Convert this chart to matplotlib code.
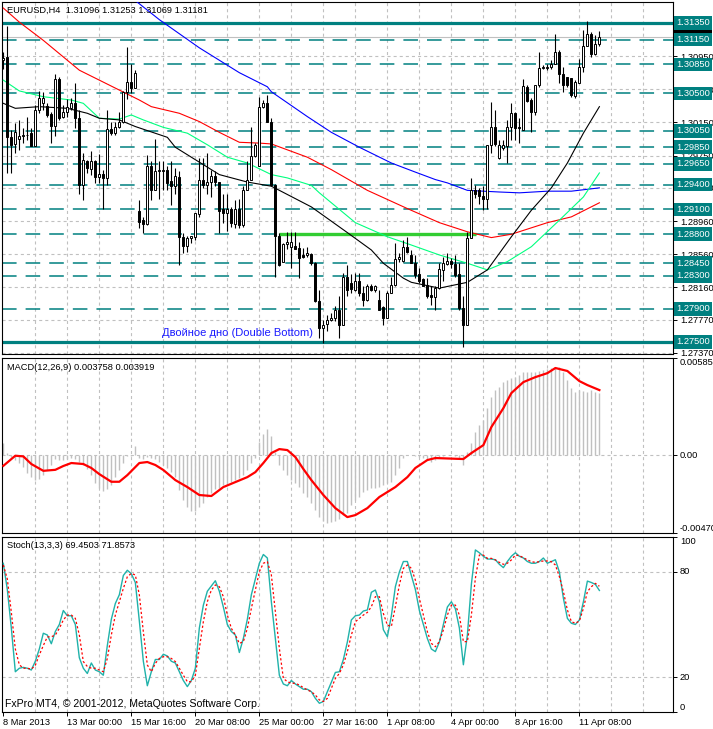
import matplotlib
matplotlib.use('Agg')
import matplotlib.pyplot as plt
import matplotlib.transforms as mtransforms
import numpy as np

plt.rcParams['font.family'] = ['Liberation Sans', 'DejaVu Sans']
plt.rcParams['lines.scale_dashes'] = False

# ---------------- data (EURUSD H4) ----------------
opens = [1.3090, 1.3094, 1.2997, 1.2989, 1.2995, 1.2998, 1.3000, 1.3002, 1.2987, 1.3030,
         1.3038, 1.3035, 1.3025, 1.3011, 1.3067, 1.3022, 1.3027, 1.3032, 1.3038, 1.3020,
         1.2939, 1.2969, 1.2959, 1.2968, 1.2949, 1.2953, 1.2948, 1.3007, 1.3002, 1.3010,
         1.3016, 1.3052, 1.3064, 1.3057, 1.2908, 1.2897, 1.2892, 1.2962, 1.2934, 1.2956,
         1.2956, 1.2957, 1.2944, 1.2938, 1.2949, 1.2877, 1.2866, 1.2875, 1.2877, 1.2905,
         1.2946, 1.2939, 1.2943, 1.2950, 1.2943, 1.2910, 1.2906, 1.2911, 1.2892, 1.2910,
         1.2891, 1.2934, 1.2946, 1.2974, 1.2962, 1.3033, 1.3038, 1.3016, 1.2940, 1.2878,
         1.2847, 1.2868, 1.2865, 1.2866, 1.2863, 1.2855, 1.2855, 1.2856, 1.2845, 1.2799,
         1.2767, 1.2772, 1.2777, 1.2779, 1.2789, 1.2771, 1.2829, 1.2821, 1.2813, 1.2823,
         1.2809, 1.2801, 1.2818, 1.2813, 1.2801, 1.2792, 1.2779, 1.2809, 1.2819, 1.2850,
         1.2848, 1.2865, 1.2855, 1.2845, 1.2832, 1.2826, 1.2819, 1.2807, 1.2804, 1.2815,
         1.2837, 1.2844, 1.2848, 1.2844, 1.2832, 1.2791, 1.2771, 1.2875, 1.2934, 1.2933,
         1.2926, 1.2923, 1.2988, 1.3009, 1.2972, 1.2984, 1.2986, 1.3010, 1.3026, 1.3010,
         1.3006, 1.3058, 1.3042, 1.3028, 1.3060, 1.3081, 1.3081, 1.3082, 1.3086, 1.3100,
         1.3074, 1.3070, 1.3068, 1.3047, 1.3063, 1.3082, 1.3107, 1.3122, 1.3098, 1.3110]
highs = [1.3100, 1.3131, 1.3006, 1.3014, 1.3018, 1.3008, 1.3022, 1.3008, 1.3036, 1.3053,
         1.3052, 1.3038, 1.3027, 1.3074, 1.3070, 1.3036, 1.3043, 1.3044, 1.3062, 1.3030,
         1.2978, 1.2970, 1.2980, 1.2970, 1.2977, 1.2958, 1.3030, 1.3016, 1.3016, 1.3027,
         1.3053, 1.3106, 1.3086, 1.3078, 1.2921, 1.2901, 1.2976, 1.2968, 1.2995, 1.2968,
         1.2968, 1.2962, 1.2968, 1.2960, 1.2956, 1.2881, 1.2878, 1.2878, 1.2906, 1.2972,
         1.2972, 1.2978, 1.2958, 1.2956, 1.2943, 1.2929, 1.2929, 1.2913, 1.2921, 1.2923,
         1.2938, 1.2968, 1.3010, 1.2990, 1.3046, 1.3042, 1.3048, 1.3020, 1.2941, 1.2881,
         1.2870, 1.2883, 1.2883, 1.2883, 1.2871, 1.2863, 1.2865, 1.2857, 1.2846, 1.2813,
         1.2777, 1.2783, 1.2785, 1.2793, 1.2805, 1.2833, 1.2843, 1.2832, 1.2833, 1.2833,
         1.2817, 1.2820, 1.2820, 1.2819, 1.2813, 1.2793, 1.2811, 1.2829, 1.2869, 1.2857,
         1.2873, 1.2877, 1.2861, 1.2855, 1.2839, 1.2827, 1.2827, 1.2817, 1.2817, 1.2845,
         1.2853, 1.2857, 1.2851, 1.2855, 1.2845, 1.2805, 1.2883, 1.2948, 1.2940, 1.2936,
         1.2938, 1.2988, 1.3040, 1.3030, 1.2994, 1.2994, 1.3018, 1.3038, 1.3028, 1.3020,
         1.3067, 1.3060, 1.3044, 1.3060, 1.3100, 1.3084, 1.3086, 1.3090, 1.3122, 1.3102,
         1.3082, 1.3070, 1.3068, 1.3066, 1.3092, 1.3126, 1.3137, 1.3124, 1.3120, 1.3125]
lows = [1.3080, 1.2954, 1.2954, 1.2978, 1.2982, 1.2990, 1.2994, 1.2986, 1.2986, 1.3026,
        1.3030, 1.3022, 1.2990, 1.2998, 1.3018, 1.3020, 1.3022, 1.3030, 1.3008, 1.2928,
        1.2921, 1.2954, 1.2951, 1.2942, 1.2942, 1.2910, 1.2940, 1.3000, 1.3000, 1.3008,
        1.3014, 1.3043, 1.3050, 1.3056, 1.2887, 1.2881, 1.2891, 1.2921, 1.2934, 1.2923,
        1.2934, 1.2934, 1.2915, 1.2928, 1.2843, 1.2857, 1.2858, 1.2869, 1.2873, 1.2901,
        1.2936, 1.2929, 1.2925, 1.2938, 1.2881, 1.2893, 1.2884, 1.2889, 1.2888, 1.2887,
        1.2889, 1.2934, 1.2946, 1.2973, 1.2962, 1.3032, 1.3015, 1.2938, 1.2828, 1.2842,
        1.2846, 1.2862, 1.2839, 1.2862, 1.2827, 1.2851, 1.2852, 1.2843, 1.2798, 1.2755,
        1.2749, 1.2763, 1.2775, 1.2775, 1.2755, 1.2771, 1.2805, 1.2809, 1.2811, 1.2805,
        1.2793, 1.2800, 1.2811, 1.2810, 1.2788, 1.2771, 1.2779, 1.2809, 1.2817, 1.2847,
        1.2846, 1.2857, 1.2845, 1.2827, 1.2821, 1.2817, 1.2803, 1.2795, 1.2789, 1.2814,
        1.2823, 1.2843, 1.2839, 1.2829, 1.2789, 1.2744, 1.2771, 1.2875, 1.2924, 1.2917,
        1.2909, 1.2911, 1.2978, 1.2986, 1.2971, 1.2982, 1.2966, 1.2994, 1.2994, 1.2990,
        1.3006, 1.3040, 1.3004, 1.3024, 1.3058, 1.3079, 1.3078, 1.3080, 1.3086, 1.3062,
        1.3052, 1.3058, 1.3046, 1.3044, 1.3062, 1.3076, 1.3107, 1.3094, 1.3096, 1.3107]
closes = [1.3093, 1.2997, 1.2988, 1.3004, 1.2999, 1.3000, 1.3000, 1.2987, 1.3030, 1.3045,
          1.3045, 1.3024, 1.3011, 1.3067, 1.3020, 1.3028, 1.3033, 1.3038, 1.3020, 1.2940,
          1.2970, 1.2960, 1.2968, 1.2949, 1.2953, 1.2948, 1.3007, 1.3002, 1.3010, 1.3015,
          1.3052, 1.3064, 1.3057, 1.3075, 1.2895, 1.2892, 1.2962, 1.2934, 1.2956, 1.2957,
          1.2958, 1.2942, 1.2938, 1.2950, 1.2877, 1.2866, 1.2875, 1.2878, 1.2906, 1.2946,
          1.2939, 1.2943, 1.2950, 1.2943, 1.2908, 1.2906, 1.2911, 1.2893, 1.2910, 1.2891,
          1.2934, 1.2946, 1.2974, 1.2988, 1.3033, 1.3038, 1.3016, 1.2940, 1.2878, 1.2843,
          1.2868, 1.2871, 1.2871, 1.2862, 1.2851, 1.2853, 1.2857, 1.2845, 1.2799, 1.2767,
          1.2771, 1.2777, 1.2779, 1.2789, 1.2771, 1.2829, 1.2813, 1.2814, 1.2823, 1.2809,
          1.2801, 1.2818, 1.2813, 1.2817, 1.2789, 1.2779, 1.2809, 1.2819, 1.2850, 1.2853,
          1.2865, 1.2859, 1.2845, 1.2831, 1.2824, 1.2818, 1.2805, 1.2804, 1.2815, 1.2838,
          1.2845, 1.2848, 1.2844, 1.2831, 1.2791, 1.2771, 1.2875, 1.2934, 1.2928, 1.2926,
          1.2923, 1.2988, 1.3009, 1.2989, 1.2988, 1.2988, 1.3010, 1.3026, 1.3008, 1.3008,
          1.3059, 1.3041, 1.3028, 1.3060, 1.3081, 1.3081, 1.3082, 1.3086, 1.3100, 1.3074,
          1.3060, 1.3060, 1.3048, 1.3064, 1.3082, 1.3107, 1.3122, 1.3098, 1.3110, 1.3118]

# moving averages at a few bars
ma_blue_bars = [33, 39, 49, 57, 59, 66, 67, 76, 82, 89, 97, 103, 108, 111, 116, 124, 129, 136, 142, 149]
ma_blue = [1.3162, 1.3139, 1.3105, 1.3081, 1.3075, 1.3058, 1.3052, 1.3022, 1.3003, 1.2985,
           1.2966, 1.2955, 1.2946, 1.2942, 1.2933, 1.2931, 1.2930, 1.2932, 1.2932, 1.2936]
ma_red_bars = [0, 4, 10, 16, 19, 24, 29, 34, 37, 44, 49, 54, 59, 64, 67, 76, 82, 91, 101,
               109, 116, 122, 127, 136, 142, 149]
ma_red = [1.3153, 1.3136, 1.3114, 1.3090, 1.3078, 1.3066, 1.3054, 1.3042, 1.3034, 1.3026,
          1.3016, 1.3003, 1.2991, 1.2990, 1.2989, 1.2973, 1.2958, 1.2933, 1.2911, 1.2894,
          1.2883, 1.2876, 1.2880, 1.2894, 1.2901, 1.2918]
ma_green_bars = [0, 4, 10, 17, 20, 24, 29, 32, 35, 40, 46, 51, 56, 61, 67, 71, 77, 79, 88,
                 96, 102, 109, 116, 121, 126, 132, 139, 145, 149]
ma_green = [1.3066, 1.3053, 1.3046, 1.3042, 1.3038, 1.3020, 1.3019, 1.3024, 1.3018, 1.3009,
            1.3002, 1.2988, 1.2973, 1.2966, 1.2952, 1.2948, 1.2939, 1.2930, 1.2894, 1.2877,
            1.2867, 1.2855, 1.2845, 1.2837, 1.2847, 1.2865, 1.2897, 1.2925, 1.2954]
ma_black_bars = [0, 3, 9, 16, 21, 24, 29, 33, 41, 43, 49, 54, 61, 67, 77, 86, 92, 95, 100,
                 102, 109, 113, 116, 121, 127, 132, 137, 141, 145, 149]
ma_black = [1.3038, 1.3032, 1.3034, 1.3032, 1.3026, 1.3020, 1.3018, 1.3010, 1.2997, 1.2985,
            1.2967, 1.2952, 1.2943, 1.2938, 1.2913, 1.2882, 1.2861, 1.2845, 1.2827, 1.2822,
            1.2815, 1.2819, 1.2822, 1.2837, 1.2877, 1.2909, 1.2936, 1.2966, 1.3002, 1.3034]

# horizontal levels drawn on the chart
level_solid = [1.31350, 1.27500]
level_dashed = [1.31150, 1.30850, 1.30500, 1.30050, 1.29850, 1.29650, 1.29400,
                1.29100, 1.28800, 1.28450, 1.28300, 1.27900]
price_grid = [1.30950, 1.30550, 1.30150, 1.29750, 1.29360, 1.28960, 1.28560,
              1.28160, 1.27770, 1.27370]
bid_price = 1.31181
neckline = 1.28800
neckline_bars = (68.9, 118.2)

# MACD(12,26,9)
macd_main = [0.00072, 0.00012, -0.00012, -0.00030, -0.00048, -0.00072, -0.00109, -0.00133, -0.00151, -0.00145,
             -0.00121, -0.00090, -0.00060, -0.00024, -0.00030, -0.00030, -0.00024, -0.00018, -0.00024, -0.00042,
             -0.00060, -0.00084, -0.00121, -0.00169, -0.00199, -0.00217, -0.00205, -0.00181, -0.00133, -0.00090,
             -0.00048, -0.00006, -0.00006, 0.00054, -0.00018, -0.00024, -0.00012, -0.00018, -0.00024, -0.00042,
             -0.00060, -0.00078, -0.00103, -0.00133, -0.00211, -0.00271, -0.00314, -0.00338, -0.00338, -0.00314,
             -0.00289, -0.00253, -0.00229, -0.00205, -0.00199, -0.00181, -0.00169, -0.00163, -0.00151, -0.00139,
             -0.00121, -0.00090, -0.00048, -0.00018, 0.00078, 0.00127, 0.00157, 0.00115, 0.00018, -0.00060,
             -0.00090, -0.00121, -0.00151, -0.00169, -0.00193, -0.00229, -0.00253, -0.00289, -0.00332, -0.00374,
             -0.00398, -0.00410, -0.00404, -0.00398, -0.00386, -0.00362, -0.00350, -0.00302, -0.00271, -0.00253,
             -0.00223, -0.00211, -0.00199, -0.00199, -0.00193, -0.00181, -0.00169, -0.00163, -0.00121, -0.00078,
             -0.00018, 0.00000, 0.00000, -0.00006, -0.00012, -0.00018, -0.00030, -0.00042, -0.00030, -0.00012,
             -0.00006, 0.00000, 0.00000, -0.00006, -0.00018, -0.00060, 0.00018, 0.00072, 0.00139, 0.00181,
             0.00211, 0.00283, 0.00350, 0.00392, 0.00410, 0.00440, 0.00452, 0.00464, 0.00470, 0.00482,
             0.00500, 0.00500, 0.00500, 0.00500, 0.00507, 0.00513, 0.00519, 0.00525, 0.00525, 0.00531,
             0.00500, 0.00452, 0.00404, 0.00380, 0.00392, 0.00386, 0.00380, 0.00392, 0.00380, 0.003758]
macd_signal_bars = [0, 3, 5, 7, 10, 13, 15, 17, 20, 22, 24, 27, 29, 31, 34, 36, 38, 40, 43, 46,
                    49, 52, 55, 58, 61, 63, 65, 67, 69, 71, 73, 75, 77, 80, 83, 86, 88, 91, 94,
                    98, 101, 103, 106, 108, 115, 117, 120, 122, 125, 127, 130, 133, 136, 138,
                    141, 144, 146, 149]
macd_signal = [-0.00065, -0.00004, -0.00008, -0.00054, -0.00095, -0.00089, -0.00066, -0.00048,
               -0.00054, -0.00078, -0.00115, -0.00161, -0.00161, -0.00121, -0.00048, -0.00042,
               -0.00060, -0.00090, -0.00151, -0.00193, -0.00241, -0.00247, -0.00193, -0.00163,
               -0.00133, -0.00103, -0.00048, 0.00012, 0.00036, 0.00030, -0.00012, -0.00084,
               -0.00151, -0.00241, -0.00320, -0.00374, -0.00362, -0.00320, -0.00253, -0.00193,
               -0.00133, -0.00078, -0.00030, -0.00018, -0.00024, 0.00012, 0.00060, 0.00169,
               0.00283, 0.00374, 0.00440, 0.00470, 0.00494, 0.00525, 0.00507, 0.00446, 0.00422,
               0.003919]

# Stochastic(13,3,3)
stoch_k = [85, 70, 48, 23, 25, 25.5, 25, 24, 29, 36, 45, 44, 39, 46, 50, 58, 55, 55, 50, 31,
           25, 22, 28, 24, 23, 21, 38, 53, 62, 67, 78, 81, 79, 74, 52, 29, 15, 23, 30, 30,
           33, 32, 29, 28, 23, 18, 14.5, 18, 25, 48, 61, 69, 72, 75, 69, 60, 50, 46, 44, 34,
           42, 53, 67, 76, 85, 90, 88, 63, 42, 21, 16, 15, 18, 16, 14.5, 13, 13, 11.6, 7.8, 5,
           6, 11.6, 17, 22.6, 23, 30, 40, 52.6, 55, 55.4, 57.7, 58.3, 68.4, 69.7, 63, 47, 43, 55, 71.6, 80,
           86, 86, 78, 70, 58, 50, 42, 36, 34.5, 40, 50, 60, 63, 59, 48, 27, 44, 73, 92.6, 91,
           89, 87.4, 87.4, 87, 84.4, 82.5, 86, 89, 91, 89, 88, 86, 85, 85, 86, 88, 85, 86, 87, 80,
           65, 53.5, 50.7, 50, 52.6, 63, 74.8, 74, 72.9, 69.4503]
stoch_d = [84, 76, 57, 36, 27, 25, 25, 24.5, 26.7, 32.6, 38, 42.9, 43, 44, 47.8, 52.6, 55.4, 55.4, 53.5, 44,
           28.8, 26, 25, 25, 24, 23, 30.6, 44, 55.4, 63, 70.6, 77.3, 79.2, 78.3, 66.9, 45.9, 26.9, 23, 27.8, 30.6,
           31.6, 31.6, 30.6, 28.8, 25, 21, 17.3, 17.3, 21, 36.4, 51.6, 63, 69.7, 72.6, 71.6, 65.9, 55.4, 47.8, 44, 39.2,
           40.2, 47.8, 59.2, 69.7, 80.2, 85, 85.9, 78.3, 57.3, 36.4, 19.2, 17.3, 16.4, 16.4, 15.4, 13.9, 12.6, 11.6, 9.7, 6.9,
           6, 7.8, 13.5, 19.2, 22, 26.9, 34.5, 44, 51.6, 53.5, 55.4, 56.9, 60.2, 65.9, 65.9, 56.3, 49.7, 48.8, 60.2, 72.6,
           82.1, 84, 82.1, 75.4, 64.9, 55.4, 45.9, 39.2, 37.3, 40.2, 46.9, 55.4, 61.1, 61.1, 55.4, 40.2, 40.2, 55.4, 76.4, 89.7,
           89.7, 87.8, 87.8, 86.9, 85.5, 84.4, 85, 86.9, 89.7, 89.3, 88.2, 86.9, 85.9, 85.5, 85.9, 86.3, 86.3, 85.9, 84, 77.3,
           68.8, 58.3, 51.6, 50.7, 52, 59.2, 68.8, 71.6, 73.5, 71.8573]

date_tick_bars = [0, 16, 32, 48, 64, 80, 96, 112, 128, 144]
date_labels = ['8 Mar 2013', '13 Mar 00:00', '15 Mar 16:00', '20 Mar 08:00', '25 Mar 00:00',
               '27 Mar 16:00', '1 Apr 08:00', '4 Apr 00:00', '8 Apr 16:00', '11 Apr 08:00']

# ---------------- figure ----------------
W, H = 713, 729
fig = plt.figure(figsize=(W / 100, H / 100), dpi=100, facecolor='white')


def px_axes(x0, y0, x1, y1):
    return fig.add_axes([x0 / W, 1 - y1 / H, (x1 - x0) / W, (y1 - y0) / H])


ax_p = px_axes(2, 2, 673, 354)
ax_m = px_axes(2, 358, 673, 533)
ax_s = px_axes(2, 537, 673, 712)

GRID = '#c0c0c0'
TEAL = '#008080'
FS = 6.7
x_lim = (-0.33, 167.4)

for ax in (ax_p, ax_m, ax_s):
    ax.set_xlim(*x_lim)
    for sp in ax.spines.values():
        sp.set_linewidth(0.8)
        sp.set_color('black')
    for b in range(8, 168, 8):
        ax.axvline(b, color=GRID, lw=0.8, dashes=(2.2, 2.2), zorder=0)
    ax.yaxis.tick_right()
    ax.tick_params(axis='y', length=3, width=0.7, pad=2, labelsize=FS)

# ---- price panel ----
bars = np.arange(len(opens))
o = np.array(opens)
h = np.array(highs)
l = np.array(lows)
c = np.array(closes)

for p in price_grid:
    ax_p.axhline(p, color=GRID, lw=0.8, dashes=(2.2, 2.2), zorder=0)
ax_p.axhline(bid_price, color=GRID, lw=0.8, zorder=1)
for p in level_dashed:
    ax_p.axhline(p, color=TEAL, lw=1.1, dashes=(10.5, 6.5), zorder=1)
for p in level_solid:
    ax_p.axhline(p, color=TEAL, lw=2.3, zorder=1)

ax_p.hlines(neckline, neckline_bars[0], neckline_bars[1], color='#32cd32', lw=2.4, zorder=2)

ax_p.plot(ma_blue_bars, ma_blue, color='#0000ff', lw=0.8, zorder=3)
ax_p.plot(ma_red_bars, ma_red, color='#ff0000', lw=0.8, zorder=3)
ax_p.plot(ma_green_bars, ma_green, color='#00ff7f', lw=0.8, zorder=3)
ax_p.plot(ma_black_bars, ma_black, color='black', lw=0.8, zorder=3)

ax_p.vlines(bars, l, h, color='black', lw=0.8, zorder=4)
body_lo = np.minimum(o, c)
body_h = np.maximum(np.abs(c - o), 0.00003)
body_col = np.where(c >= o, 'white', 'black')
ax_p.bar(bars, body_h, bottom=body_lo, width=0.5, color=body_col,
         edgecolor='black', linewidth=0.7, zorder=5)

ax_p.set_ylim(1.27355, 1.31603)
ax_p.set_yticks(price_grid)
ax_p.set_yticklabels([f'{p:.5f}' for p in price_grid])
ax_p.set_xticks([])

trans_p = mtransforms.blended_transform_factory(ax_p.transAxes, ax_p.transData)
ax_p.text(1 + 3 / 671, bid_price, f'{bid_price:.5f}', transform=trans_p, ha='left', va='center',
          color='white', fontsize=FS, zorder=9, clip_on=False,
          bbox=dict(boxstyle='square,pad=0.25', fc='black', ec='none'))
for p in level_solid + level_dashed:
    ax_p.text(1 + 3 / 671, p, f'{p:.5f}', transform=trans_p, ha='left', va='center',
              color='white', fontsize=FS, zorder=10, clip_on=False,
              bbox=dict(boxstyle='square,pad=0.25', fc=TEAL, ec='none'))

# ---- MACD panel ----
ax_m.axhline(0, color=GRID, lw=0.8, dashes=(2.2, 2.2), zorder=0)
ax_m.vlines(bars, 0, macd_main, color='#c0c0c0', lw=1.0, zorder=2)
ax_m.plot(macd_signal_bars, macd_signal, color='red', lw=1.6, zorder=3)
ax_m.set_ylim(-0.0047, 0.005853)
ax_m.set_yticks([-0.0047, 0.0, 0.005853])
ax_m.set_yticklabels(['-0.004700', '0.00', '0.005853'])
for lbl, va in zip(ax_m.get_yticklabels(), ['bottom', 'center', 'top']):
    lbl.set_verticalalignment(va)
ax_m.set_xticks([])

# ---- Stochastic panel ----
for lvl in (20, 80):
    ax_s.axhline(lvl, color=GRID, lw=0.8, dashes=(2.2, 2.2), zorder=0)
ax_s.plot(bars, stoch_k, color='#20b2aa', lw=1.0, zorder=3)
ax_s.plot(bars, stoch_d, color='red', lw=0.9, dashes=(1.6, 1.6), zorder=3)
ax_s.set_ylim(0, 100)
ax_s.set_yticks([0, 20, 80, 100])
ax_s.set_yticklabels(['0', '20', '80', '100'])
for lbl, va in zip(ax_s.get_yticklabels(), ['bottom', 'center', 'center', 'top']):
    lbl.set_verticalalignment(va)
ax_s.set_xticks(date_tick_bars)
ax_s.set_xticklabels(date_labels)
ax_s.tick_params(axis='x', length=3, width=0.7, pad=1, labelsize=FS)
for lbl in ax_s.get_xticklabels():
    lbl.set_horizontalalignment('left')

# ---- texts ----
def ftext(x, y, s, **kw):
    fig.text(x / W, 1 - y / H, s, va='center', ha='left', **kw)


ftext(7, 10, 'EURUSD,H4  1.31096 1.31253 1.31069 1.31181', fontsize=FS, color='black')
ftext(162, 333, 'Двойное дно (Double Bottom)', fontsize=8, color='#1a1aff')
ftext(7, 368, 'MACD(12,26,9) 0.003758 0.003919', fontsize=FS, color='black')
ftext(7, 546, 'Stoch(13,3,3) 69.4503 71.8573', fontsize=FS, color='black')
ftext(5, 704, 'FxPro MT4, © 2001-2012, MetaQuotes Software Corp.', fontsize=7.6, color='black')

fig.savefig('out.png', dpi=100, facecolor='white')
